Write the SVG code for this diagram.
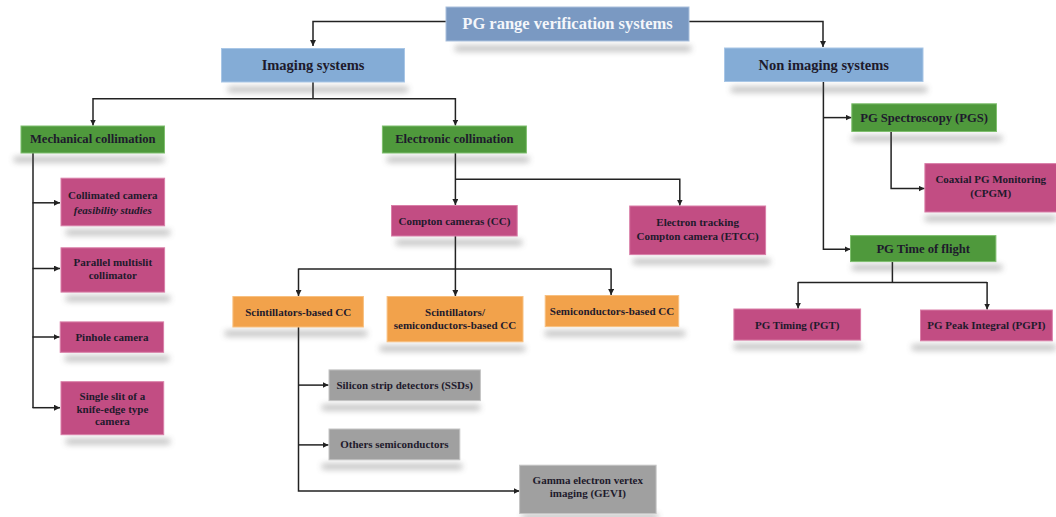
<svg xmlns="http://www.w3.org/2000/svg" width="1056" height="517" viewBox="0 0 1056 517">
<style>
text{font-family:"Liberation Serif","Times New Roman",serif;font-weight:bold;fill:#1e1a2c;text-anchor:middle;dominant-baseline:central}
.t0{font-size:16.5px;fill:#f4f6fa}
.t1{font-size:14.5px}
.t2{font-size:12.6px}
.t3{font-size:11px}
.root{fill:#7a99c2;stroke:#a9bfdc;stroke-width:1}
.blue{fill:#84acd6;stroke:#a8c6e6;stroke-width:1}
.green{fill:#4f993c;stroke:#7fbf6e;stroke-width:1}
.pink{fill:#c24d83;stroke:#d97fa8;stroke-width:1}
.orange{fill:#f2a24b;stroke:#f8c080;stroke-width:1}
.gray{fill:#a0a0a0;stroke:#c4c4c4;stroke-width:1}
.sh{fill:#4a4a4a;opacity:0.4;filter:url(#blur)}
.ln{fill:none;stroke:#222;stroke-width:1.5}
</style>
<defs>
<filter id="blur" x="-20%" y="-200%" width="140%" height="500%"><feGaussianBlur stdDeviation="3"/></filter>
<marker id="ah" viewBox="0 0 10 10" refX="10" refY="5" markerWidth="6" markerHeight="6" markerUnits="userSpaceOnUse" orient="auto"><path d="M0,0L10,5L0,10z" fill="#222"/></marker>
</defs>
<rect width="1056" height="517" fill="#ffffff"/>
<g id="connectors">
<path class="ln" d="M446,21.6H313V46" marker-end="url(#ah)"/>
<path class="ln" d="M689,21.6H823V47" marker-end="url(#ah)"/>
<path class="ln" d="M313,82V98.7"/>
<path class="ln" d="M93,98.7H455.4"/>
<path class="ln" d="M93,98V125.5" marker-end="url(#ah)"/>
<path class="ln" d="M455.4,98V125.5" marker-end="url(#ah)"/>
<path class="ln" d="M33,153V408"/>
<path class="ln" d="M32.5,202.8H60" marker-end="url(#ah)"/>
<path class="ln" d="M32.5,268.5H60" marker-end="url(#ah)"/>
<path class="ln" d="M32.5,337H59.5" marker-end="url(#ah)"/>
<path class="ln" d="M32.5,407.7H60" marker-end="url(#ah)"/>
<path class="ln" d="M455.4,153V205" marker-end="url(#ah)"/>
<path class="ln" d="M455.4,179.2H679.8V205.5" marker-end="url(#ah)"/>
<path class="ln" d="M455.4,236V296" marker-end="url(#ah)"/>
<path class="ln" d="M298.5,269.1H611.1"/>
<path class="ln" d="M298.5,268.5V296" marker-end="url(#ah)"/>
<path class="ln" d="M611.1,268.5V295" marker-end="url(#ah)"/>
<path class="ln" d="M298.5,327V490.9H519.5" marker-end="url(#ah)"/>
<path class="ln" d="M298,385.1H328.5" marker-end="url(#ah)"/>
<path class="ln" d="M298,444.9H328.5" marker-end="url(#ah)"/>
<path class="ln" d="M823.4,82V249.2H850.5" marker-end="url(#ah)"/>
<path class="ln" d="M823,117.6H851.5" marker-end="url(#ah)"/>
<path class="ln" d="M891.1,131.5V188.6H924.5" marker-end="url(#ah)"/>
<path class="ln" d="M892.4,262V282.6"/>
<path class="ln" d="M798.1,282.6H987.1"/>
<path class="ln" d="M798.1,282V308.5" marker-end="url(#ah)"/>
<path class="ln" d="M987.1,282V309.5" marker-end="url(#ah)"/>
</g>
<g id="n-root"><rect class="sh" x="455" y="46" width="236" height="5"/><rect class="root" x="446" y="7" width="243" height="34"/><text class="t0" x="567.5" y="23.5">PG range verification systems</text></g>
<g id="n-imaging"><rect class="sh" x="228" y="87" width="180" height="5"/><rect class="blue" x="221.5" y="48.5" width="183" height="33.5"/><text class="t1" x="313" y="65">Imaging systems</text></g>
<g id="n-nonimaging"><rect class="sh" x="731" y="87" width="196" height="5"/><rect class="blue" x="724.5" y="48" width="198.5" height="33.5"/><text class="t1" x="823.7" y="64.5">Non imaging systems</text></g>
<g id="n-mech"><rect class="sh" x="14" y="157" width="150" height="5"/><rect class="green" x="21" y="126" width="143.5" height="27"/><text class="t2" x="92.7" y="139">Mechanical collimation</text></g>
<g id="n-elec"><rect class="sh" x="387" y="157" width="142" height="5"/><rect class="green" x="382.4" y="126" width="144" height="27"/><text class="t2" x="454.4" y="139">Electronic collimation</text></g>
<g id="n-collimated"><rect class="sh" x="66" y="230" width="104" height="5"/><rect class="pink" x="61" y="178.2" width="103.6" height="47.6"/><text class="t3" x="112.8" y="195">Collimated camera</text><text class="t3" x="112.8" y="210" font-style="italic">feasibility studies</text></g>
<g id="n-parallel"><rect class="sh" x="66" y="296" width="104" height="5"/><rect class="pink" x="61" y="247.8" width="103.6" height="44.3"/><text class="t3" x="112.8" y="262">Parallel multislit</text><text class="t3" x="112.8" y="274.5">collimator</text></g>
<g id="n-pinhole"><rect class="sh" x="65" y="356" width="104" height="5"/><rect class="pink" x="60.2" y="321.9" width="103.4" height="30.4"/><text class="t3" x="111.9" y="337">Pinhole camera</text></g>
<g id="n-slit"><rect class="sh" x="66" y="439" width="104" height="5"/><rect class="pink" x="61" y="381.7" width="102.7" height="53"/><text class="t3" x="112.4" y="396">Single slit of a</text><text class="t3" x="112.4" y="408.6">knife-edge type</text><text class="t3" x="112.4" y="421.4">camera</text></g>
<g id="n-compton"><rect class="sh" x="396" y="240" width="126" height="5"/><rect class="pink" x="391.5" y="205.5" width="125.7" height="30.5"/><text class="t3" x="454.4" y="220.7">Compton cameras (CC)</text></g>
<g id="n-etcc"><rect class="sh" x="633" y="259" width="137" height="5"/><rect class="pink" x="629.7" y="206" width="135.9" height="48.6"/><text class="t3" x="697.6" y="222.4">Electron tracking</text><text class="t3" x="697.6" y="235.6">Compton camera (ETCC)</text></g>
<g id="n-scint"><rect class="sh" x="225" y="331" width="142" height="5"/><rect class="orange" x="232.9" y="296.5" width="130.5" height="30.5"/><text class="t3" x="298.2" y="312">Scintillators-based CC</text></g>
<g id="n-scintsemi"><rect class="sh" x="380" y="346" width="145" height="5"/><rect class="orange" x="387.1" y="296.5" width="135.9" height="45.3"/><text class="t3" x="455" y="312.4">Scintillators/</text><text class="t3" x="455" y="325">semiconductors-based CC</text></g>
<g id="n-semi"><rect class="sh" x="545" y="331" width="140" height="5"/><rect class="orange" x="545.2" y="295.5" width="133.5" height="31.1"/><text class="t3" x="612" y="311">Semiconductors-based CC</text></g>
<g id="n-ssd"><rect class="sh" x="322" y="405" width="158" height="5"/><rect class="gray" x="329" y="369.9" width="151.4" height="30.7"/><text class="t3" x="404.7" y="385.2">Silicon strip detectors (SSDs)</text></g>
<g id="n-others"><rect class="sh" x="322" y="464" width="140" height="5"/><rect class="gray" x="329" y="429" width="130.8" height="30.8"/><text class="t3" x="394.4" y="444.4">Others semiconductors</text></g>
<g id="n-gevi"><rect class="sh" x="522" y="514" width="136" height="5"/><rect class="gray" x="519.6" y="465.2" width="136.5" height="48.3"/><text class="t3" x="587.8" y="480.4">Gamma electron vertex</text><text class="t3" x="587.8" y="493.3">imaging (GEVI)</text></g>
<g id="n-pgs"><rect class="sh" x="852" y="136" width="150" height="5"/><rect class="green" x="851.8" y="103.8" width="144.7" height="27.7"/><text class="t2" x="924.1" y="117.6">PG Spectroscopy (PGS)</text></g>
<g id="n-cpgm"><rect class="sh" x="925" y="216" width="131" height="5"/><rect class="pink" x="924.9" y="163.6" width="131.6" height="48.4"/><text class="t3" x="990.7" y="179.2">Coaxial PG Monitoring</text><text class="t3" x="990.7" y="193">(CPGM)</text></g>
<g id="n-tof"><rect class="sh" x="852" y="265" width="150" height="5"/><rect class="green" x="850.5" y="235.6" width="145.4" height="26"/><text class="t2" x="923.2" y="248.6">PG Time of flight</text></g>
<g id="n-pgt"><rect class="sh" x="734" y="344" width="128" height="5"/><rect class="pink" x="733.9" y="309" width="126.7" height="31.1"/><text class="t3" x="797.2" y="324.6">PG Timing (PGT)</text></g>
<g id="n-pgpi"><rect class="sh" x="912" y="345" width="144" height="5"/><rect class="pink" x="920.5" y="310" width="131.8" height="30.8"/><text class="t3" x="986.4" y="325.4">PG Peak Integral (PGPI)</text></g>
</svg>
